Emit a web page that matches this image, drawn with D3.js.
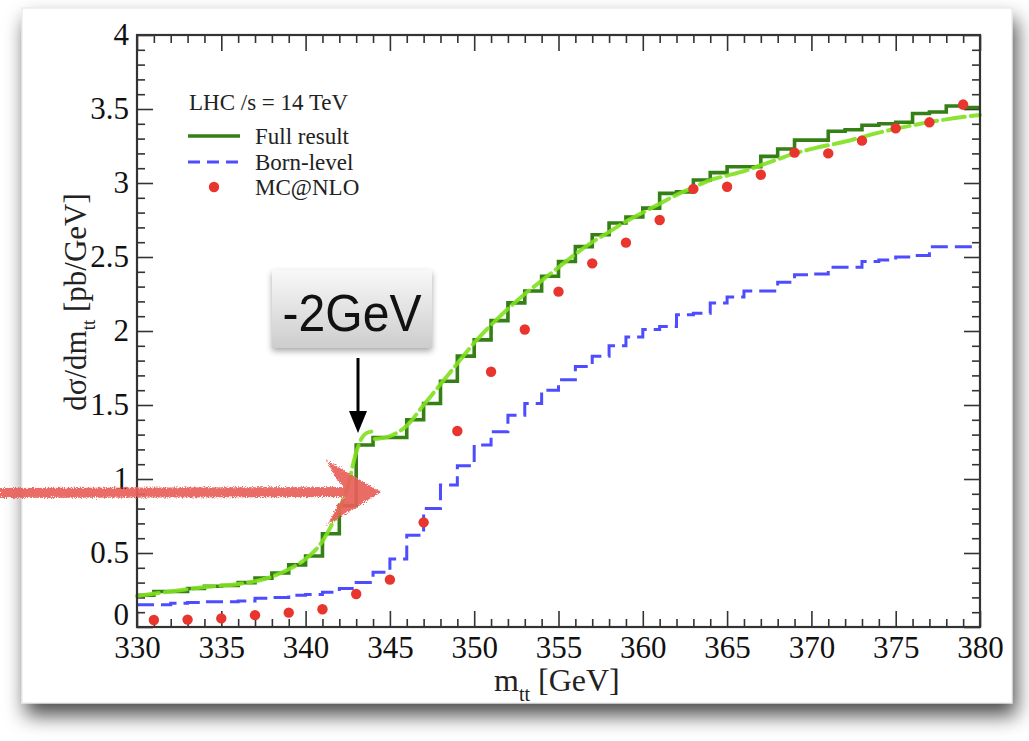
<!DOCTYPE html>
<html><head><meta charset="utf-8">
<script src="https://cdn.jsdelivr.net/npm/d3@7"></script>
<style>html,body{margin:0;padding:0;background:#fff;} svg{display:block;}</style>
</head><body>
<svg id="c" width="1029" height="741"></svg>
<script>
// ---- data ----
const binLow = [330,331,332,333,334,335,336,337,338,339,340,341,342,343,344,345,346,347,348,349,
                350,351,352,353,354,355,356,357,358,359,360,361,362,363,364,365,366,367,368,369,
                370,371,372,373,374,375,376,377,378,379];
const binHigh = 380;
const fullResult = [0.215,0.24,0.24,0.26,0.275,0.28,0.30,0.33,0.365,0.42,0.48,0.63,0.82,1.23,1.28,1.28,1.40,1.51,1.66,1.83,
                    1.94,2.07,2.19,2.27,2.37,2.47,2.57,2.65,2.73,2.77,2.83,2.93,2.94,3.02,3.07,3.11,3.11,3.18,3.23,3.29,
                    3.29,3.35,3.36,3.39,3.40,3.41,3.47,3.48,3.52,3.51];
const bornLevel = [0.15,0.15,0.16,0.165,0.17,0.17,0.175,0.195,0.20,0.215,0.22,0.235,0.26,0.30,0.37,0.46,0.62,0.80,0.96,1.09,
                   1.23,1.32,1.43,1.51,1.60,1.67,1.76,1.83,1.90,1.96,2.01,2.03,2.11,2.12,2.19,2.23,2.27,2.27,2.33,2.38,
                   2.385,2.43,2.43,2.47,2.48,2.50,2.51,2.57,2.57,2.57];
const mcX = [331,333,335,337,339,341,343,345,347,349,351,353,355,357,359,361,363,365,367,369,371,373,375,377,379];
const mcNLO = [0.047,0.05,0.058,0.08,0.097,0.12,0.223,0.32,0.707,1.324,1.725,2.01,2.266,2.457,2.597,2.75,2.96,2.975,3.056,3.205,3.20,3.286,3.37,3.41,3.53];
// smooth (threshold-shifted) curve, two pieces: below and above the jump
const smoothX1 = [330,332,334,336,338,339,340,341,341.5,342,342.5,343,343.3,343.6,343.9];
const smoothY1 = [0.21,0.24,0.27,0.29,0.34,0.39,0.46,0.58,0.68,0.80,0.95,1.18,1.27,1.31,1.32];
const smoothX2 = [344.1,345,346,347,348,349,350,351,352,353,354,355,356,357,358,359,360,361,362,363,364,365,366,367,368,369,370,372,374,376,378,380];
const smoothY2 = [1.27,1.29,1.36,1.50,1.64,1.78,1.92,2.04,2.15,2.25,2.34,2.43,2.52,2.60,2.67,2.74,2.80,2.86,2.92,2.97,3.02,3.05,3.08,3.12,3.16,3.20,3.23,3.28,3.34,3.39,3.43,3.46];
const xTicks = [330,335,340,345,350,355,360,365,370,375,380];
const yTicks = [0,0.5,1,1.5,2,2.5,3,3.5,4];
const yTickLabels = ["0","0.5","1","1.5","2","2.5","3","3.5","4"];
const legendLabels = ["Full result","Born-level","MC@NLO"];

// ---- layout ----
const svg = d3.select("#c");
const L = 137, R = 980, T = 35, B = 627;
const x = d3.scaleLinear().domain([330,380]).range([L,R]);
const y = d3.scaleLinear().domain([0,4]).range([B,T]);
const serif = "'Liberation Serif','Times New Roman',Times,serif";

const defs = svg.append("defs");
const sh = defs.append("filter").attr("id","cardShadow").attr("x","-5%").attr("y","-5%").attr("width","110%").attr("height","120%");
sh.append("feDropShadow").attr("dx",4).attr("dy",12).attr("stdDeviation",10).attr("flood-color","#000").attr("flood-opacity",0.7);
const bs = defs.append("filter").attr("id","boxShadow").attr("x","-20%").attr("y","-20%").attr("width","140%").attr("height","150%");
bs.append("feDropShadow").attr("dx",0).attr("dy",3).attr("stdDeviation",3).attr("flood-color","#000").attr("flood-opacity",0.35);
const grad = defs.append("linearGradient").attr("id","boxGrad").attr("x1",0).attr("y1",0).attr("x2",0).attr("y2",1);
grad.append("stop").attr("offset","0%").attr("stop-color","#f8f8f8");
grad.append("stop").attr("offset","100%").attr("stop-color","#cdcdcd");
const rough = defs.append("filter").attr("id","rough").attr("x","-5%").attr("y","-50%").attr("width","110%").attr("height","200%");
rough.append("feTurbulence").attr("type","fractalNoise").attr("baseFrequency",0.9).attr("numOctaves",2).attr("result","n");
rough.append("feDisplacementMap").attr("in","SourceGraphic").attr("in2","n").attr("scale",6).attr("xChannelSelector","R").attr("yChannelSelector","G");

// card
svg.append("rect").attr("x",22).attr("y",8).attr("width",990).attr("height",695)
  .attr("fill","#fff").attr("stroke","#e4e4e4").attr("stroke-width",1).attr("filter","url(#cardShadow)");

// ---- axes ----
const g = svg.append("g");
function addAxis(axis, tr, withLabels){
  const a = g.append("g").attr("transform",tr).call(axis);
  a.select(".domain").remove();
  a.selectAll(".tick line").attr("stroke","#333").attr("stroke-width",1.6);
  if(!withLabels) a.selectAll("text").remove();
  return a;
}
const minorX = d3.range(331,380).filter(v => v % 5 !== 0);
const minorY = d3.range(1,40).filter(v => v % 5 !== 0).map(v => v/10);

const xb = addAxis(d3.axisBottom(x).tickValues(xTicks).tickSize(-16).tickPadding(9).tickFormat(d3.format("d")), `translate(0,${B})`, true);
xb.selectAll("text").attr("font-family",serif).attr("font-size",31).attr("fill","#111");
addAxis(d3.axisBottom(x).tickValues(minorX).tickSize(-8), `translate(0,${B})`, false);
addAxis(d3.axisTop(x).tickValues(xTicks).tickSize(-16), `translate(0,${T})`, false);
addAxis(d3.axisTop(x).tickValues(minorX).tickSize(-8), `translate(0,${T})`, false);

const yl = addAxis(d3.axisLeft(y).tickValues(yTicks).tickSize(-16).tickPadding(8).tickFormat((d,i)=>yTickLabels[i]), `translate(${L},0)`, true);
yl.selectAll("text").attr("font-family",serif).attr("font-size",31).attr("fill","#111");
yl.selectAll(".tick").filter(d=>d===0).select("text").attr("dy","-0.08em");
addAxis(d3.axisLeft(y).tickValues(minorY).tickSize(-8), `translate(${L},0)`, false);
addAxis(d3.axisRight(y).tickValues(yTicks).tickSize(-16), `translate(${R},0)`, false);
addAxis(d3.axisRight(y).tickValues(minorY).tickSize(-8), `translate(${R},0)`, false);

// ---- series ----
const stepPts = (vals) => binLow.map((b,i)=>[b,vals[i]]).concat([[binHigh, vals[vals.length-1]]]);
const stepLine = d3.line().x(d=>x(d[0])).y(d=>y(d[1])).curve(d3.curveStepAfter);
const smoothLine = d3.line().x(d=>x(d[0])).y(d=>y(d[1])).curve(d3.curveMonotoneX);

g.append("path").attr("d",stepLine(stepPts(bornLevel))).attr("fill","none")
  .attr("stroke","#4d4dff").attr("stroke-width",3).attr("stroke-dasharray","17,7");
g.append("path").attr("d",stepLine(stepPts(fullResult))).attr("fill","none")
  .attr("stroke","#357f17").attr("stroke-width",3.6);
[[smoothX1,smoothY1],[smoothX2,smoothY2]].forEach(([sx,sy])=>{
  g.append("path").attr("d",smoothLine(sx.map((v,i)=>[v,sy[i]]))).attr("fill","none")
    .attr("stroke","#7fe01e").attr("stroke-width",4).attr("stroke-dasharray","22,6").attr("stroke-linecap","round").attr("opacity",0.9);
});
g.selectAll("circle.mc").data(mcX).enter().append("circle").attr("class","mc")
  .attr("cx",d=>x(d)).attr("cy",(d,i)=>y(mcNLO[i])).attr("r",5.2).attr("fill","#e8352d");

// frame
g.append("rect").attr("x",L).attr("y",T).attr("width",R-L).attr("height",B-T)
  .attr("fill","none").attr("stroke","#333").attr("stroke-width",2.2);

// ---- legend ----
const lg = svg.append("g").attr("font-family",serif).attr("font-size",23).attr("fill","#222");
lg.append("text").attr("x",189).attr("y",110).text("LHC /s = 14 TeV");
lg.append("line").attr("x1",188).attr("x2",240).attr("y1",136).attr("y2",136).attr("stroke","#357f17").attr("stroke-width",3.6);
lg.append("text").attr("x",255).attr("y",144).text(legendLabels[0]);
lg.append("line").attr("x1",188).attr("x2",240).attr("y1",162).attr("y2",162).attr("stroke","#4d4dff").attr("stroke-width",3).attr("stroke-dasharray","12,7");
lg.append("text").attr("x",255).attr("y",170).text(legendLabels[1]);
lg.append("circle").attr("cx",214).attr("cy",187).attr("r",5.2).attr("fill","#e8352d");
lg.append("text").attr("x",255).attr("y",195).text(legendLabels[2]);

// ---- axis titles ----
const xt = svg.append("text").attr("font-family",serif).attr("font-size",32).attr("fill","#222").attr("x",494).attr("y",691);
xt.append("tspan").text("m");
xt.append("tspan").attr("dy",10).attr("font-size",20).text("tt");
xt.append("tspan").attr("dy",-10).text(" [GeV]");

const yt = svg.append("text").attr("font-family",serif).attr("font-size",31).attr("fill","#222")
  .attr("text-anchor","middle").attr("transform","translate(86,302) rotate(-90)");
yt.append("tspan").text("dσ/dm");
yt.append("tspan").attr("dy",9).attr("font-size",19).text("tt");
yt.append("tspan").attr("dy",-9).text(" [pb/GeV]");

// ---- annotations ----
svg.append("rect").attr("x",272).attr("y",270).attr("width",160).attr("height",78)
  .attr("fill","url(#boxGrad)").attr("filter","url(#boxShadow)");
svg.append("text").attr("x",352).attr("y",331).attr("text-anchor","middle")
  .attr("font-family","'Liberation Sans',Arial,sans-serif").attr("font-size",52).attr("fill","#111")
  .attr("textLength",139).attr("lengthAdjust","spacingAndGlyphs").text("-2GeV");
svg.append("line").attr("x1",358).attr("x2",358).attr("y1",358).attr("y2",414).attr("stroke","#000").attr("stroke-width",3);
svg.append("path").attr("d","M349,411 L367,411 L358,433 Z").attr("fill","#000");

const ra = svg.append("g").attr("filter","url(#rough)").attr("opacity",0.92);
ra.append("path").attr("d","M0,493 L362,492").attr("stroke","#e9605a").attr("stroke-width",10).attr("fill","none");
ra.append("path").attr("d","M330,464 L378,492 L331,521 L340,504 L350,492 L338,478 Z").attr("fill","#e9605a").attr("stroke","#e9605a").attr("stroke-width",3);
</script>
</body></html>
